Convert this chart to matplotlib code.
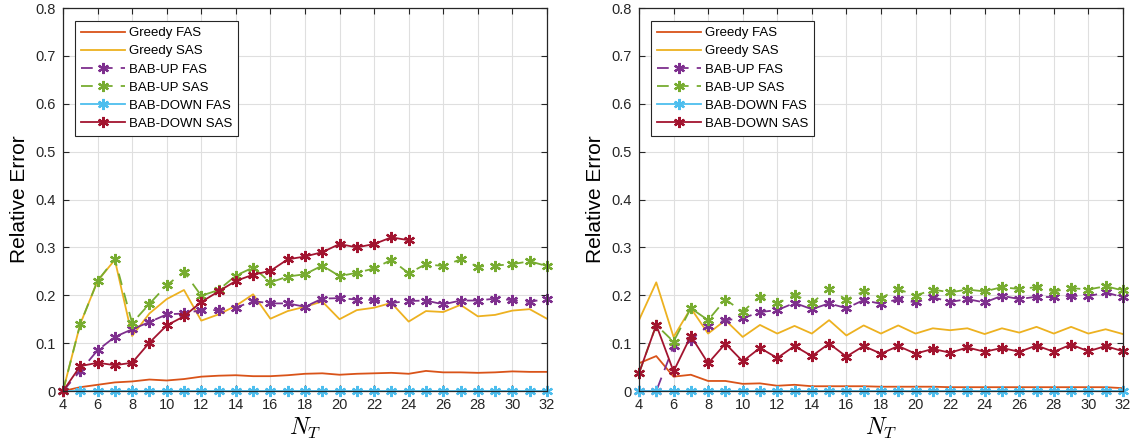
import matplotlib
matplotlib.use("Agg")
import matplotlib.pyplot as plt
import numpy as np

plt.rcParams['font.family'] = ['Liberation Sans', 'DejaVu Sans']
plt.rcParams['mathtext.fontset'] = 'cm'

# x axis: number of targets
nt = np.arange(4, 33)
nt_down = np.arange(4, 25)   # BAB-DOWN SAS stops at 24 in left panel

# ---- left panel ----
l_greedy_fas = [0, 0.008, 0.013, 0.018, 0.020, 0.024, 0.022, 0.025, 0.030, 0.032, 0.033,
                0.031, 0.031, 0.033, 0.036, 0.037, 0.034, 0.036, 0.037, 0.038, 0.036,
                0.042, 0.039, 0.039, 0.038, 0.039, 0.041, 0.040, 0.040]
l_greedy_sas = [0, 0.140, 0.230, 0.274, 0.115, 0.162, 0.192, 0.211, 0.147, 0.160, 0.178,
                0.202, 0.151, 0.167, 0.176, 0.187, 0.150, 0.169, 0.174, 0.184, 0.145,
                0.167, 0.165, 0.180, 0.156, 0.159, 0.168, 0.171, 0.151]
l_babup_fas = [0, 0.042, 0.085, 0.113, 0.129, 0.144, 0.160, 0.162, 0.169, 0.169, 0.174,
               0.188, 0.183, 0.183, 0.176, 0.193, 0.194, 0.191, 0.190, 0.184, 0.188,
               0.189, 0.181, 0.189, 0.189, 0.193, 0.190, 0.186, 0.193]
l_babup_sas = [0, 0.140, 0.230, 0.276, 0.142, 0.182, 0.221, 0.249, 0.199, 0.211, 0.241,
               0.258, 0.227, 0.239, 0.244, 0.262, 0.240, 0.247, 0.256, 0.274, 0.246,
               0.265, 0.261, 0.275, 0.260, 0.262, 0.265, 0.271, 0.261]
l_babdown_fas = [0] * 29
l_babdown_sas = [0, 0.052, 0.059, 0.054, 0.059, 0.101, 0.137, 0.156, 0.186, 0.208, 0.230,
                 0.243, 0.251, 0.275, 0.281, 0.290, 0.307, 0.300, 0.307, 0.321, 0.315]

# ---- right panel ----
r_greedy_fas = [0.058, 0.073, 0.030, 0.034, 0.021, 0.021, 0.015, 0.016, 0.011, 0.013, 0.010,
                0.010, 0.010, 0.010, 0.009, 0.009, 0.009, 0.009, 0.008, 0.008, 0.008,
                0.008, 0.008, 0.008, 0.008, 0.008, 0.008, 0.008, 0.006]
r_greedy_sas = [0.148, 0.227, 0.113, 0.173, 0.120, 0.148, 0.113, 0.138, 0.120, 0.136, 0.120,
                0.148, 0.116, 0.137, 0.120, 0.137, 0.120, 0.131, 0.127, 0.131, 0.119,
                0.131, 0.122, 0.134, 0.120, 0.134, 0.120, 0.129, 0.119]
r_babup_fas = [0, 0, 0.093, 0.107, 0.136, 0.148, 0.152, 0.165, 0.169, 0.184, 0.171,
               0.183, 0.173, 0.190, 0.182, 0.192, 0.185, 0.196, 0.186, 0.192, 0.185,
               0.199, 0.192, 0.197, 0.196, 0.199, 0.198, 0.206, 0.196]
r_babup_sas = [0.037, 0.138, 0.103, 0.173, 0.148, 0.191, 0.166, 0.197, 0.183, 0.201, 0.184,
               0.213, 0.191, 0.208, 0.194, 0.213, 0.199, 0.212, 0.206, 0.212, 0.208,
               0.217, 0.213, 0.217, 0.208, 0.215, 0.212, 0.219, 0.210]
r_babdown_fas = [0] * 29
r_babdown_sas = [0.037, 0.138, 0.041, 0.115, 0.058, 0.099, 0.062, 0.090, 0.069, 0.094, 0.073,
                 0.099, 0.072, 0.094, 0.078, 0.094, 0.078, 0.088, 0.080, 0.091, 0.082,
                 0.090, 0.082, 0.095, 0.082, 0.097, 0.083, 0.094, 0.083]

labels = ["Greedy FAS", "Greedy SAS", "BAB-UP FAS", "BAB-UP SAS", "BAB-DOWN FAS", "BAB-DOWN SAS"]
colors = ["#D95319", "#EDB120", "#7E2F8E", "#77AC30", "#4DBEEE", "#A2142F"]
ast = (6, 2, 0)
dash = (0, (6.5, 4.5))

fig = plt.figure(figsize=(11.39, 4.45), dpi=100)
ax1 = fig.add_axes([0.0553, 0.1213, 0.4249, 0.8607])
ax2 = fig.add_axes([0.5610, 0.1213, 0.4249, 0.8607])


def draw(ax, gf, gs, uf, us, df, ds, x_ds):
    mk = dict(marker=ast, ms=8, mew=1.6, clip_on=False)
    ax.plot(nt, gf, color=colors[0], lw=1.3, label=labels[0])
    ax.plot(nt, gs, color=colors[1], lw=1.3, label=labels[1])
    ax.plot(nt, uf, color=colors[2], lw=1.3, ls=dash, label=labels[2], **mk)
    ax.plot(nt, us, color=colors[3], lw=1.3, ls=dash, label=labels[3], **mk)
    ax.plot(nt, df, color=colors[4], lw=1.3, label=labels[4], **mk)
    ax.plot(x_ds, ds, color=colors[5], lw=1.3, label=labels[5], **mk)

    ax.set_xlim(4, 32)
    ax.set_ylim(0, 0.8)
    ax.set_xticks(np.arange(4, 33, 2))
    ax.set_yticks(np.arange(0, 0.81, 0.1))
    ax.set_yticklabels(["0", "0.1", "0.2", "0.3", "0.4", "0.5", "0.6", "0.7", "0.8"])
    ax.tick_params(direction="in", top=True, right=True, labelsize=10.5, length=4,
                   colors="#262626", pad=5)
    ax.grid(True, color="#DFDFDF", lw=0.8)
    ax.set_axisbelow(True)
    for s in ax.spines.values():
        s.set_color("#262626")
        s.set_linewidth(0.9)
    ax.set_xlabel(r"$N_T$", fontsize=17, labelpad=3)
    ax.set_ylabel("Relative Error", fontsize=15, labelpad=5)
    leg = ax.legend(loc="upper left", bbox_to_anchor=(0.025, 0.966), fontsize=9.5,
                    fancybox=False, framealpha=1, edgecolor="#262626", borderaxespad=0,
                    handlelength=3.3, labelspacing=0.45, borderpad=0.45, handletextpad=0.3)
    leg.get_frame().set_linewidth(0.8)
    leg.set_zorder(5)


draw(ax1, l_greedy_fas, l_greedy_sas, l_babup_fas, l_babup_sas, l_babdown_fas, l_babdown_sas, nt_down)
draw(ax2, r_greedy_fas, r_greedy_sas, r_babup_fas, r_babup_sas, r_babdown_fas, r_babdown_sas, nt)

fig.savefig("out.png", dpi=100)
